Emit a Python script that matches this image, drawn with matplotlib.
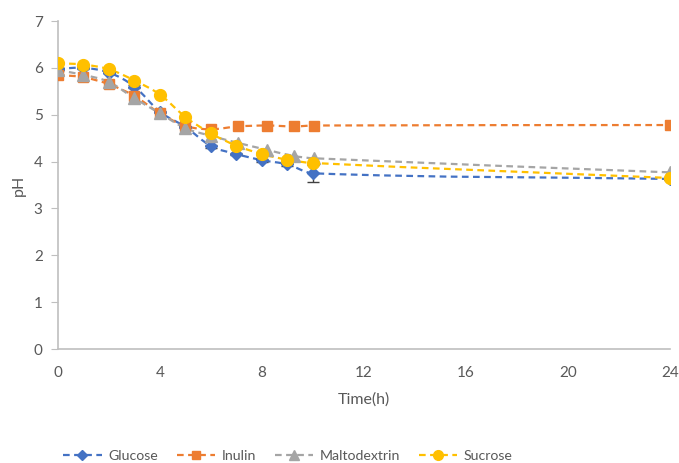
import matplotlib

matplotlib.use("Agg")

import matplotlib.pyplot as plt
from matplotlib.path import Path
from matplotlib.patches import PathPatch
from matplotlib.lines import Line2D

plt.rcParams["font.family"] = ["Lato", "DejaVu Sans"]

# sampling times (h)
t_main = [0, 1, 2, 3, 4, 5, 6, 7, 8, 9, 10, 24]
t_late = [0, 1, 2, 3, 4, 5, 6, 7.05, 8.2, 9.25, 10.05, 24]

glucose = [5.98, 6.0, 5.9, 5.6, 5.06, 4.74, 4.33, 4.16, 4.03, 3.94, 3.75, 3.63]
glucose_err = [0.02, 0.02, 0.02, 0.03, 0.03, 0.03, 0.03, 0.03, 0.03, 0.03, 0.18, 0.03]
inulin = [5.85, 5.8, 5.65, 5.4, 5.03, 4.76, 4.69, 4.75, 4.77, 4.75, 4.77, 4.78]
maltodextrin = [5.95, 5.85, 5.7, 5.35, 5.03, 4.71, 4.55, 4.4, 4.25, 4.12, 4.07, 3.77]
sucrose = [6.1, 6.07, 5.97, 5.73, 5.43, 4.95, 4.6, 4.34, 4.16, 4.04, 3.97, 3.65]

series = [
    ("Glucose", t_main, glucose, "#4472C4", "D", 6.5),
    ("Inulin", t_late, inulin, "#ED7D31", "s", 7.5),
    ("Maltodextrin", t_late, maltodextrin, "#A5A5A5", "^", 8),
    ("Sucrose", t_main, sucrose, "#FFC000", "o", 8.5),
]

TXT = "#595959"


def smooth_path(xs, ys):
    """Smoothed line as cubic Bezier (Hermite) segments through the points."""
    n = len(xs)
    slopes = []
    for i in range(n):
        a, b = max(i - 1, 0), min(i + 1, n - 1)
        slopes.append((ys[b] - ys[a]) / (xs[b] - xs[a]))
    verts = [(xs[0], ys[0])]
    codes = [Path.MOVETO]
    for i in range(n - 1):
        dx = (xs[i + 1] - xs[i]) / 3
        verts += [(xs[i] + dx, ys[i] + slopes[i] * dx),
                  (xs[i + 1] - dx, ys[i + 1] - slopes[i + 1] * dx),
                  (xs[i + 1], ys[i + 1])]
        codes += [Path.CURVE4] * 3
    return Path(verts, codes)


fig = plt.figure(figsize=(6.79, 4.63), dpi=100)
ax = fig.add_axes([0.0854, 0.2462, 0.9013, 0.7084])

handles = []
for i, (name, t, y, col, mk, ms) in enumerate(series):
    patch = PathPatch(smooth_path(t, y), facecolor="none", edgecolor=col,
                      lw=1.6, ls=(0, (3, 2)), zorder=2 + i)
    ax.add_patch(patch)
    ax.plot(t, y, ls="none", marker=mk, ms=ms, color=col, zorder=6 + i)
    handles.append(Line2D([], [], color=col, lw=1.6, ls=(0, (3, 2)),
                          marker=mk, ms=ms - 1.5))

ax.errorbar(t_main, glucose, yerr=glucose_err, fmt="none", ecolor="#404040",
            elinewidth=1, capsize=4, zorder=5)

ax.set_xlim(0, 24)
ax.set_ylim(0, 7)
ax.set_xticks([0, 4, 8, 12, 16, 20, 24])
ax.set_yticks(range(8))
for s in ("top", "right"):
    ax.spines[s].set_visible(False)
for s in ("left", "bottom"):
    ax.spines[s].set_color("#BFBFBF")
    ax.spines[s].set_linewidth(1.2)
ax.tick_params(axis="both", colors="#BFBFBF", labelcolor=TXT, labelsize=11)
ax.tick_params(axis="x", length=0, pad=12)
ax.tick_params(axis="y", length=5, pad=6)
ax.set_xlabel("Time(h)", color=TXT, fontsize=11.5, labelpad=9)
ax.set_ylabel("pH", color=TXT, fontsize=11.5, labelpad=6)

fig.legend(handles, [s[0] for s in series], loc="center",
           bbox_to_anchor=(0.424, 0.015), ncol=4, frameon=False,
           fontsize=10.2, labelcolor=TXT, handlelength=2.7,
           columnspacing=1.35, handletextpad=0.45)

fig.savefig("out.png", dpi=100)
